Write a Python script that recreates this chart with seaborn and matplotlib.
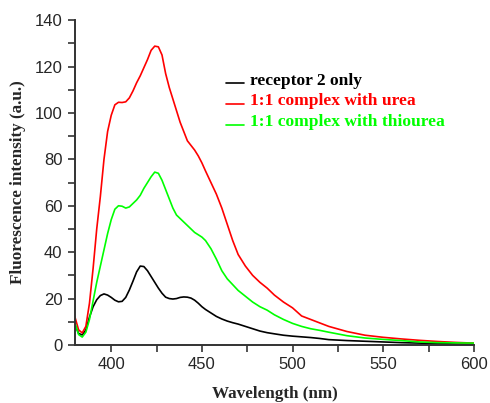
import numpy as np
import pandas as pd
import matplotlib
matplotlib.use("Agg")
import matplotlib.pyplot as plt
import seaborn as sns
from matplotlib.ticker import MultipleLocator
from matplotlib.legend_handler import HandlerLine2D
from matplotlib.lines import Line2D

wavelength = [380, 382, 384, 386, 388, 390, 392, 394, 396, 398, 400, 402, 404, 406, 408,
              410, 412, 414, 416, 418, 420, 422, 424, 426, 428, 430, 432, 434, 436, 438,
              440, 442, 444, 446, 448, 450, 452, 455, 458, 461, 464, 467, 470, 474, 478,
              482, 486, 490, 495, 500, 505, 510, 515, 520, 530, 540, 550, 560, 570, 580,
              590, 600]

receptor_only = [8.6, 5, 4.3, 6.5, 12, 16.5, 19.5, 21.3, 22, 21.5, 20.5, 19.3, 18.6, 18.8, 20.5,
                 23.7, 27.5, 31.5, 34, 33.8, 32, 29.5, 27, 24.5, 22.3, 20.6, 20, 19.8, 20, 20.5,
                 20.7, 20.6, 20.2, 19.3, 18, 16.5, 15.3, 13.8, 12.3, 11.2, 10.3, 9.6, 9, 8, 7,
                 6, 5.3, 4.8, 4.2, 3.8, 3.5, 3.2, 2.8, 2.3, 1.9, 1.6, 1.3, 1.0, 0.8, 0.6,
                 0.4, 0.3]

urea_complex = [12, 6.5, 5.2, 8, 18, 33, 50, 64, 80, 92, 99, 103.5, 104.6, 104.5, 104.8,
                106.5, 109.5, 113, 116, 119.5, 123, 127, 128.8, 128.5, 125, 117, 111, 106, 101, 96,
                92, 88, 86, 84, 81.5, 78.5, 75, 70, 65, 59, 52, 45, 39, 34, 30,
                27, 24.5, 21.5, 18.5, 16, 12.5, 11, 9.5, 8, 5.8, 4.2, 3.3, 2.6, 2.0, 1.5,
                1.1, 0.8]

thiourea_complex = [9.5, 4.5, 3.4, 5.5, 11, 19, 27, 34, 41, 48, 54, 58.5, 60, 59.8, 59,
                    59.5, 61, 62.5, 64.5, 67.5, 70, 72.5, 74.5, 74, 71, 67, 63, 59, 56, 54.5,
                    53, 51.5, 50, 48.5, 47.5, 46.5, 45, 41.5, 37, 32, 28.5, 26, 23.5, 21, 18.5,
                    16.5, 15, 13, 11, 9.3, 8, 7, 6.3, 5.5, 4, 3.0, 2.4, 1.9, 1.3, 1.0,
                    0.9, 0.8]

labels = ["receptor 2 only", "1:1 complex with urea", "1:1 complex with thiourea"]
colors = ["#000000", "#ff0000", "#00ff00"]

df = pd.concat([
    pd.DataFrame({"Wavelength": wavelength, "Intensity": vals, "Sample": lab})
    for vals, lab in zip([receptor_only, urea_complex, thiourea_complex], labels)
])

sns.set_style("ticks")
plt.rcParams["font.family"] = ["Liberation Sans", "DejaVu Sans"]


class BaselineHandler(HandlerLine2D):
    def create_artists(self, legend, orig_handle, xdescent, ydescent, width, height, fontsize, trans):
        artists = super().create_artists(legend, orig_handle, xdescent, ydescent,
                                         width, height, fontsize, trans)
        for a in artists:
            if isinstance(a, Line2D):
                y = np.asarray(a.get_ydata(), dtype=float)
                a.set_ydata(np.full_like(y, height * 0.12 - ydescent))
        return artists


fig = plt.figure(figsize=(4.9, 4.03), dpi=100)
ax = fig.add_axes([0.153, 0.144, 0.814, 0.806])

sns.lineplot(data=df, x="Wavelength", y="Intensity", hue="Sample",
             hue_order=labels, palette=dict(zip(labels, colors)),
             linewidth=1.2, ax=ax, sort=False)

ax.set_xlim(380, 600)
ax.set_ylim(0, 140)
ax.xaxis.set_major_locator(MultipleLocator(50))
ax.xaxis.set_minor_locator(MultipleLocator(25))
ax.yaxis.set_major_locator(MultipleLocator(20))
ax.yaxis.set_minor_locator(MultipleLocator(10))
ax.tick_params(which="major", direction="out", length=5, width=1.2, labelsize=12,
               color="#333333", pad=4)
ax.tick_params(which="minor", direction="out", length=5, width=1.2, color="#333333")
for s in ["top", "right"]:
    ax.spines[s].set_visible(False)
for s in ["left", "bottom"]:
    ax.spines[s].set_linewidth(1.4)
    ax.spines[s].set_color("#333333")

ax.set_xlabel("Wavelength (nm)", fontfamily="Liberation Serif", fontweight="bold",
              fontsize=12.3, labelpad=9.5)
ax.set_ylabel("Fluorescence intensity (a.u.)", fontfamily="Liberation Serif",
              fontweight="bold", fontsize=12.3, labelpad=6)

handles, labs = ax.get_legend_handles_labels()
leg = ax.legend(handles, labs, loc="upper left", bbox_to_anchor=(0.362, 0.86), frameon=False,
                handlelength=1.0, handletextpad=0.35, labelspacing=0.25,
                prop={"family": "Liberation Serif", "weight": "bold", "size": 12.6},
                labelcolor="linecolor", borderaxespad=0,
                handler_map={Line2D: BaselineHandler()})

fig.savefig("out.png", dpi=100)
